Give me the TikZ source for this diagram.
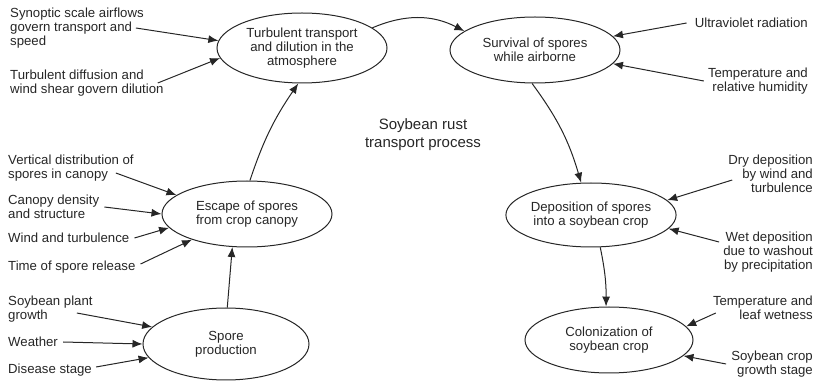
\documentclass[tikz,border=0pt]{standalone}
\usepackage{fontspec}
\setmainfont{Liberation Sans}
\usetikzlibrary{shapes.geometric,arrows.meta}
\definecolor{inkgray}{HTML}{262626}
\tikzset{
  stage/.style={ellipse, draw=inkgray, line width=1pt, inner sep=0pt, minimum width=170pt, minimum height=66pt, align=center, text=inkgray},
  factor/.style={inner sep=0pt, text=inkgray},
  flow/.style={draw=inkgray, line width=1pt, -{Latex[length=10pt,width=8pt]}},
}
\begin{document}
\begin{tikzpicture}[x=1pt,y=-1pt,font=\fontsize{13.2}{14}\selectfont]
\useasboundingbox (0,0) rectangle (815,382);
% stages of the process
\node[stage, minimum height=70pt] (transport) at (302,48) {Turbulent transport\\and dilution in the\\atmosphere};
\node[stage] (survival) at (535,50) {Survival of spores\\while airborne};
\node[stage] (escape) at (247,214) {Escape of spores\\from crop canopy};
\node[stage, minimum width=168pt, minimum height=64pt] (deposition) at (591,215) {Deposition of spores\\into a soybean crop};
\node[stage, minimum width=166pt, minimum height=72pt] (production) at (226,344) {Spore\\production};
\node[stage, minimum width=168pt] (colonization) at (609,340) {Colonization of\\soybean crop};
\node[factor, align=center, font=\fontsize{15}{18}\selectfont] (title) at (423,135) {Soybean rust\\transport process};
% factors, left side
\node[factor, anchor=west, align=left] (synoptic) at (10,28) {Synoptic scale airflows\\govern transport and\\speed};
\node[factor, anchor=west, align=left] (diffusion) at (10,83) {Turbulent diffusion and\\wind shear govern dilution};
\node[factor, anchor=west, align=left] (vertical) at (8,168) {Vertical distribution of\\spores in canopy};
\node[factor, anchor=west, align=left] (density) at (8,207) {Canopy density\\and structure};
\node[factor, anchor=west] (wind) at (8,238) {Wind and turbulence};
\node[factor, anchor=west] (release) at (8,267) {Time of spore release};
\node[factor, anchor=west, align=left] (plant) at (8,309) {Soybean plant\\growth};
\node[factor, anchor=west] (weather) at (8,342) {Weather};
\node[factor, anchor=west] (disease) at (8,370) {Disease stage};
% factors, right side
\node[factor, anchor=east] (uv) at (808,23) {Ultraviolet radiation};
\node[factor, anchor=east, align=right] (humidity) at (808,81) {Temperature and\\relative humidity};
\node[factor, anchor=east, align=right] (dry) at (813,174) {Dry deposition\\by wind and\\turbulence};
\node[factor, anchor=east, align=right] (wet) at (813,252) {Wet deposition\\due to washout\\by precipitation};
\node[factor, anchor=east, align=right] (wetness) at (813,308) {Temperature and\\leaf wetness};
\node[factor, anchor=east, align=right] (growth) at (813,364) {Soybean crop\\growth stage};
% main chain
\draw[flow] (production.88) -- (escape.246);
\draw[flow] (escape.85) to[bend left=8] (transport.264);
\draw[flow] (transport.16) to[bend left=25] (survival.165);
\draw[flow] (survival.265) to[bend left=10] (deposition.107);
\draw[flow] (deposition.286) to[bend left=6] (colonization.95);
% influences
\draw[flow] ([xshift=-8pt]synoptic.east) -- (transport.175);
\draw[flow] ([xshift=-6pt]diffusion.east) -- (transport.187);
\draw[flow] ([xshift=-8pt]uv.west) -- (survival.10);
\draw[flow] ([xshift=-4pt]humidity.west) -- (survival.350);
\draw[flow] ([xshift=-18pt,yshift=-5pt]vertical.east) -- (escape.165);
\draw[flow] ([xshift=5pt]density.east) -- (escape.180);
\draw[flow] ([xshift=5pt]wind.east) -- (escape.190);
\draw[flow] ([xshift=5pt,yshift=3pt]release.east) -- (escape.205);
\draw[flow] ([xshift=4pt,yshift=-6pt]dry.west) -- (deposition.11);
\draw[flow] ([xshift=-4pt,yshift=10pt]wet.west) -- (deposition.350);
\draw[flow] ([xshift=-16pt,yshift=-4pt]plant.east) -- (production.167);
\draw[flow] ([xshift=5pt]weather.east) -- (production.180);
\draw[flow] ([xshift=4pt,yshift=3pt]disease.east) -- (production.190);
\draw[flow] ([xshift=3pt,yshift=-5pt]wetness.west) -- (colonization.10);
\draw[flow] ([xshift=-5pt]growth.west) -- (colonization.348);
\end{tikzpicture}
\end{document}
